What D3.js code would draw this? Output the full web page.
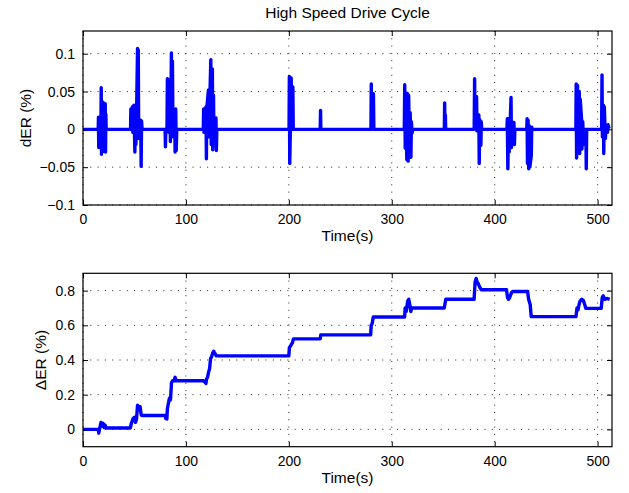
<!DOCTYPE html>
<html>
<head>
<meta charset="utf-8">
<script src="https://cdn.jsdelivr.net/npm/d3@7"></script>
<style>
  html, body { margin: 0; padding: 0; background: #fff; }
  svg { display: block; }
  text { font-family: "Liberation Sans", Arial, Helvetica, sans-serif; fill: #000; }
</style>
</head>
<body>
<div id="chart"></div>
<script>
// ---- data ----
const title = "High Speed Drive Cycle";
const xLabel = "Time(s)";
const yLabelTop = "dER (%)";
const yLabelBottom = "ΔER (%)";
const xTicks = [0, 100, 200, 300, 400, 500];
const yTicksTop = [-0.1, -0.05, 0, 0.05, 0.1];
const yTicksBottom = [0, 0.2, 0.4, 0.6, 0.8];

// top panel: dER(%) vs time
const timeTop = [
  0, 14.8, 15, 15.3, 15.6, 17.4, 17.7, 18, 18.3, 19.4, 19.7, 20, 20.3, 21.6, 21.9, 22.2, 22.5,
  46.2, 46.5, 46.9, 48, 48.4, 49.5, 50.4, 50.8, 51.3, 51.8, 53, 53.3, 53.7, 54.1, 54.6, 55.4, 56.1, 56.5, 56.9, 57.4,
  79.8, 80.1, 80.5, 81.6, 82, 82.5, 83.1, 83.6, 84.5, 84.9, 85.4, 85.9, 86.4, 86.9, 87.4, 88.6, 89, 89.5, 90.1, 90.6, 91.1,
  116.9, 117.2, 117.6, 119.5, 119.9, 120.3, 121.9, 122.3, 124.2, 124.6, 125.7, 126.1, 126.8, 127.2, 129.2, 129.6, 130,
  200.2, 200.5, 200.9, 202.3, 202.7, 203.9, 204.3,
  230.5, 230.8, 231.1,
  279.8, 280.1, 280.5, 282.2, 282.6,
  312.2, 312.6, 313.1, 314.1, 314.6, 315.4, 315.9, 316.4, 317.4, 317.9, 318.6, 319.1, 319.8, 320.2,
  351.1, 351.4, 351.7, 352.1, 352.4,
  380.1, 380.5, 381, 382.4, 382.8, 384.6, 385, 385.5, 386.6, 387, 387.4,
  411.9, 412.3, 412.8, 413.6, 414.1, 415.9, 416.3, 416.7, 417.4, 418.7, 419.2, 419.6,
  431.2, 431.5, 431.9, 432.5, 433.1, 433.5, 434.2, 435.6, 436, 436.4,
  478.9, 479.2, 479.6, 480.5, 481, 482.2, 482.6, 483.1, 484.4, 484.8, 485.6, 486.1, 486.6, 488.6, 489, 489.4,
  503.9, 504.3, 504.7, 505.6, 506, 506.5, 507.6, 508.1, 509.6, 510.2, 511, 511.7
];
const derTop = [
  0, 0, 0.016, -0.024, 0.004, 0, 0.055, -0.033, 0.012, 0.036, -0.029, 0.03, -0.02, 0.034, -0.03, 0.02, 0,
  0, 0.027, 0.002, 0.03, -0.004, 0.032, -0.03, 0.03, -0.02, 0, 0.107, -0.012, 0.105, -0.01, 0.012, -0.012, 0.012, -0.049, 0.011, 0,
  0, -0.023, 0, 0, 0.067, 0.0, 0.066, -0.004, 0.06, -0.016, 0.03, 0.101, -0.01, 0.09, 0, 0, 0.026, -0.03, 0.027, -0.028, 0,
  0, 0.027, -0.004, 0.03, -0.039, 0.028, 0.052, -0.01, 0.092, -0.02, 0.08, -0.027, 0.045, -0.01, 0.015, -0.028, 0,
  0, 0.07, -0.045, 0.068, 0, 0.056, 0,
  0, 0.025, 0,
  0, 0.06, 0, 0.047, 0,
  0, 0.059, -0.025, 0.048, -0.04, 0.047, -0.042, 0.045, -0.035, 0.022, -0.037, 0.01, -0.005, 0,
  0, 0.035, 0, 0.019, 0,
  0, 0.067, 0.002, 0.043, -0.002, 0.019, -0.045, 0.013, -0.021, 0.01, 0,
  0, 0.014, -0.052, 0.014, -0.03, 0.042, -0.024, 0.01, -0.012, 0.009, -0.02, 0,
  0, 0.014, -0.045, 0.012, -0.052, 0.005, -0.05, -0.034, 0.003, 0,
  0, 0.06, -0.038, 0.058, -0.03, 0.05, -0.032, 0.04, 0.014, -0.026, 0.01, -0.02, 0, 0, -0.052, 0,
  0, 0.072, -0.01, 0.032, -0.032, 0.03, -0.012, 0.004, -0.004, 0.006, 0.003, 0.004
];

// bottom panel: cumulative ΔER(%) vs time
const timeBottom = [
  0, 15, 15.3, 16, 17.5, 18.5, 19.5, 20.5, 21.5, 22.5, 46, 47, 48.5, 50, 51, 52, 53, 54, 55.5, 56.5, 57,
  80, 80.5, 81.5, 82, 83, 84, 85, 86, 87, 88.5, 89.5, 90.5, 117, 118, 119.5, 120, 121, 122, 123, 124, 125, 126, 127, 128, 129.5,
  200, 200.5, 201.5, 202.5, 203.5, 204.5, 230.5, 231, 279.5, 280, 281, 282,
  312.5, 313, 314, 315.5, 316.5, 317.5, 318.5, 319.5, 351, 352.5,
  380, 381, 382, 383, 384, 385.5, 387, 411.5, 412.5, 413.5, 414.5, 416.5, 417.5,
  432, 433, 434.5, 435.5, 479, 480, 481, 482, 483, 484.5, 486, 487.5, 488.5,
  503.5, 504.5, 505.5, 507, 509, 511.7
];
const derBottom = [
  0, 0, -0.022, 0.0, 0.04, 0.02, 0.035, 0.01, 0.025, 0.008, 0.008, 0.035, 0.06, 0.07, 0.04, 0.06, 0.14, 0.13, 0.13, 0.085, 0.08,
  0.08, 0.062, 0.06, 0.12, 0.15, 0.18, 0.17, 0.27, 0.28, 0.28, 0.3, 0.28, 0.28, 0.275, 0.265, 0.29, 0.3, 0.33, 0.35, 0.41, 0.42, 0.44, 0.45, 0.44, 0.424,
  0.424, 0.47, 0.48, 0.49, 0.5, 0.522, 0.522, 0.545, 0.545, 0.6, 0.61, 0.648,
  0.648, 0.7, 0.68, 0.74, 0.75, 0.72, 0.68, 0.7, 0.7, 0.75,
  0.75, 0.85, 0.87, 0.85, 0.84, 0.82, 0.805, 0.805, 0.76, 0.75, 0.76, 0.79, 0.795,
  0.795, 0.75, 0.72, 0.65, 0.65, 0.7, 0.69, 0.72, 0.74, 0.75, 0.745, 0.72, 0.698,
  0.698, 0.76, 0.77, 0.75, 0.755, 0.75
];

// ---- drawing ----
const W = 629, H = 493;
const svg = d3.select("#chart").append("svg").attr("width", W).attr("height", H);

const xLeft = 83, xRight = 612;
const fmtTop = d => d === 0 ? "0" : (d < 0 ? "\u2212" : "") + String(Math.abs(d));
const fmtBottom = d => d === 0 ? "0" : String(d);

function panel(cfg) {
  const x = d3.scaleLinear().domain([0, 514]).range([xLeft, xRight]);
  const y = d3.scaleLinear().domain(cfg.yDomain).range([cfg.bottom, cfg.top]);
  const g = svg.append("g");
  const clipId = "clip" + cfg.id;
  svg.append("clipPath").attr("id", clipId).append("rect")
    .attr("x", xLeft).attr("y", cfg.top).attr("width", xRight - xLeft).attr("height", cfg.bottom - cfg.top);

  // grid
  const grid = g.append("g").attr("stroke", "#222").attr("stroke-width", 1)
    .attr("stroke-dasharray", "1,6.3").attr("fill", "none");
  xTicks.forEach(t => grid.append("line").attr("x1", x(t)).attr("x2", x(t))
    .attr("y1", cfg.top).attr("y2", cfg.bottom));
  cfg.yTicks.forEach(t => grid.append("line").attr("x1", xLeft).attr("x2", xRight)
    .attr("y1", y(t)).attr("y2", y(t)));

  // data line
  const pts = cfg.t.map((tt, i) => [tt, cfg.v[i]]);
  g.append("path").datum(pts)
    .attr("clip-path", `url(#${clipId})`)
    .attr("fill", "none").attr("stroke", "#0000ff").attr("stroke-width", 3.4)
    .attr("stroke-linejoin", "round").attr("stroke-linecap", "butt")
    .attr("d", d3.line().x(d => x(d[0])).y(d => y(d[1])));

  // axes with inward ticks on all sides
  const tl = 5;
  const axB = d3.axisBottom(x).tickValues(xTicks).tickSizeInner(-tl).tickSizeOuter(0).tickPadding(9).tickFormat(d3.format("d"));
  const axT = d3.axisTop(x).tickValues(xTicks).tickSizeInner(-tl).tickSizeOuter(0).tickFormat("");
  const axL = d3.axisLeft(y).tickValues(cfg.yTicks).tickSizeInner(-tl).tickSizeOuter(0).tickPadding(8).tickFormat(cfg.fmt);
  const axR = d3.axisRight(y).tickValues(cfg.yTicks).tickSizeInner(-tl).tickSizeOuter(0).tickFormat("");

  const gb = g.append("g").attr("transform", `translate(0,${cfg.bottom})`).call(axB);
  const gt = g.append("g").attr("transform", `translate(0,${cfg.top})`).call(axT);
  const gl = g.append("g").attr("transform", `translate(${xLeft},0)`).call(axL);
  const gr = g.append("g").attr("transform", `translate(${xRight},0)`).call(axR);
  [gb, gt, gl, gr].forEach(a => {
    a.selectAll(".domain").remove();
    a.selectAll(".tick line").attr("stroke", "#000").attr("stroke-width", 1);
    a.selectAll("text").attr("font-size", 14).attr("font-family", '"Liberation Sans", Arial, sans-serif').attr("fill", "#000");
  });

  // box
  g.append("rect").attr("x", xLeft).attr("y", cfg.top)
    .attr("width", xRight - xLeft).attr("height", cfg.bottom - cfg.top)
    .attr("fill", "none").attr("stroke", "#000").attr("stroke-width", 1.2);

  // labels
  g.append("text").attr("x", (xLeft + xRight) / 2).attr("y", cfg.bottom + 36)
    .attr("text-anchor", "middle").attr("font-size", 15.5).text(xLabel);
  g.append("text")
    .attr("transform", `translate(${cfg.yLabelX},${(cfg.top + cfg.bottom) / 2}) rotate(-90)`)
    .attr("text-anchor", "middle").attr("font-size", 15.5).text(cfg.yLabel);
}

svg.append("text").attr("x", (xLeft + xRight) / 2).attr("y", 18)
  .attr("text-anchor", "middle").attr("font-size", 15.5).text(title);

panel({ id: 1, top: 31, bottom: 205, yDomain: [-0.1, 0.13], yTicks: yTicksTop, fmt: fmtTop,
        t: timeTop, v: derTop, yLabel: yLabelTop, yLabelX: 31 });
panel({ id: 2, top: 273.3, bottom: 446.7, yDomain: [-0.1, 0.9], yTicks: yTicksBottom, fmt: fmtBottom,
        t: timeBottom, v: derBottom, yLabel: yLabelBottom, yLabelX: 46 });
</script>
</body>
</html>
